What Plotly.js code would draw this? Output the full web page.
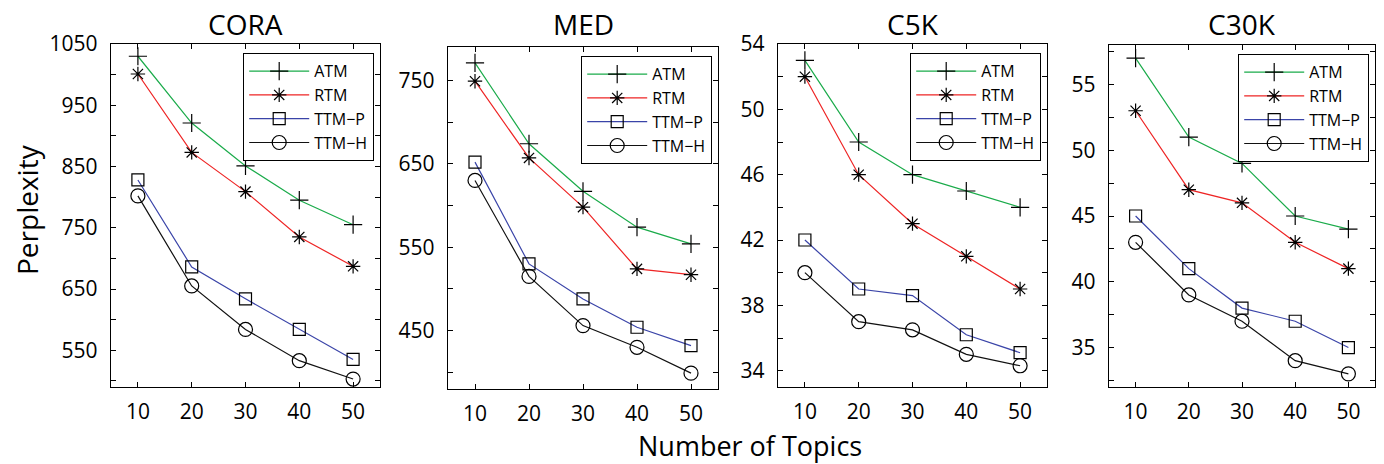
<!DOCTYPE html>
<html>
<head>
<meta charset="utf-8">
<script src="https://cdn.plot.ly/plotly-3.0.1.min.js"></script>
<style>html,body{margin:0;padding:0;background:#fff;}#chart{width:1384px;height:464px;}</style>
</head>
<body>
<div id="chart"></div>
<script>
// ---- data ----
const topics = [10, 20, 30, 40, 50];
const panelNames = ["CORA", "MED", "C5K", "C30K"];
const seriesNames = ["ATM", "RTM", "TTM\u2212P", "TTM\u2212H"];

const coraATM  = [1030, 921, 851, 795, 755];
const coraRTM  = [1001, 873, 809, 735, 687];
const coraTTMP = [828, 686, 634, 584, 535];
const coraTTMH = [802, 655, 584, 533, 503];

const medATM  = [771, 674, 617, 574, 554];
const medRTM  = [749, 657, 598, 524, 517];
const medTTMP = [652, 530, 488, 454, 432];
const medTTMH = [630, 515, 456, 430, 399];

const c5kATM  = [53, 48, 46, 45, 44];
const c5kRTM  = [52, 46, 43, 41, 39];
const c5kTTMP = [42, 39, 38.6, 36.2, 35.1];
const c5kTTMH = [40, 37, 36.5, 35, 34.3];

const c30kATM  = [57, 51, 49, 45, 44];
const c30kRTM  = [53, 47, 46, 43, 41];
const c30kTTMP = [45, 41, 38, 37, 35];
const c30kTTMH = [43, 39, 37, 34, 33];

const coraTicks = [500, 550, 600, 650, 700, 750, 800, 850, 900, 950, 1000, 1050];
const coraLabels = ["", "550", "", "650", "", "750", "", "850", "", "950", "", "1050"];
const medTicks = [400, 450, 500, 550, 600, 650, 700, 750];
const medLabels = ["", "450", "", "550", "", "650", "", "750"];
const c5kTicks = [34, 36, 38, 40, 42, 44, 46, 48, 50, 52, 54];
const c5kLabels = ["34", "", "38", "", "42", "", "46", "", "50", "", "54"];
const c30kTicks = [32.5, 35, 37.5, 40, 42.5, 45, 47.5, 50, 52.5, 55, 57.5];
const c30kLabels = ["", "35", "", "40", "", "45", "", "50", "", "55", ""];
const xTickLabels = ["10", "20", "30", "40", "50"];

// ---- styling / layout ----
const W = 1384, H = 464;
const FONT = "Open Sans, DejaVu Sans, sans-serif";
const lineColors = ["#1aab4a", "#ee2424", "#3a44a8", "#111111"];
const symbols = ["cross-thin-open", "asterisk-open", "square-open", "circle-open"];
const sizes = [13, 12, 12, 14];

const panels = [
  {data: [coraATM, coraRTM, coraTTMP, coraTTMH], range: [490, 1050], tv: coraTicks, tt: coraLabels, px: [111, 380], py: [44, 387]},
  {data: [medATM, medRTM, medTTMP, medTTMH], range: [380, 790], tv: medTicks, tt: medLabels, px: [448, 718], py: [47, 389]},
  {data: [c5kATM, c5kRTM, c5kTTMP, c5kTTMH], range: [33, 54], tv: c5kTicks, tt: c5kLabels, px: [778, 1047], py: [44, 387]},
  {data: [c30kATM, c30kRTM, c30kTTMP, c30kTTMH], range: [32, 58], tv: c30kTicks, tt: c30kLabels, px: [1109, 1375], py: [45, 387]}
];

const traces = [];
const layout = {
  width: W, height: H,
  margin: {l: 0, r: 0, t: 0, b: 0},
  paper_bgcolor: "#fff", plot_bgcolor: "#fff",
  font: {family: FONT, color: "#000"},
  annotations: []
};

panels.forEach((p, i) => {
  const n = i + 1;
  const xa = "xaxis" + (n === 1 ? "" : n), ya = "yaxis" + (n === 1 ? "" : n);
  const xr = "x" + (n === 1 ? "" : n), yr = "y" + (n === 1 ? "" : n);
  const lg = "legend" + (n === 1 ? "" : n);
  p.data.forEach((vals, s) => {
    traces.push({
      x: topics, y: vals, type: "scatter", mode: "lines+markers",
      name: seriesNames[s], xaxis: xr, yaxis: yr, legend: lg,
      line: {color: lineColors[s], width: 1.2},
      marker: {symbol: symbols[s], size: sizes[s], color: "#000", line: {color: "#000", width: 1.2}},
      cliponaxis: false
    });
  });
  const axCommon = {
    showline: true, linecolor: "#000", linewidth: 1.2, mirror: "ticks",
    ticks: "inside", ticklen: 5, tickcolor: "#000", tickwidth: 1,
    showgrid: false, zeroline: false, fixedrange: true,
    tickfont: {family: FONT, size: 21, color: "#000"}
  };
  layout[xa] = Object.assign({}, axCommon, {
    domain: [p.px[0] / W, p.px[1] / W], anchor: yr, range: [5, 55],
    tickmode: "array", tickvals: topics, ticktext: xTickLabels, ticklabelstandoff: 6
  });
  layout[ya] = Object.assign({}, axCommon, {
    domain: [1 - p.py[1] / H, 1 - p.py[0] / H], anchor: xr, range: p.range,
    tickmode: "array", tickvals: p.tv, ticktext: p.tt, ticklabelstandoff: 8
  });
  layout[lg] = {
    x: (p.px[1] - 6) / W, xanchor: "right", xref: "paper",
    y: 1 - (p.py[0] + 9) / H, yanchor: "top", yref: "paper",
    bgcolor: "#fff", bordercolor: "#000", borderwidth: 1.2,
    font: {family: FONT, size: 16, color: "#000"},
    itemwidth: 60, tracegroupgap: 0
  };
  layout.annotations.push({
    text: panelNames[i], xref: "paper", yref: "paper",
    x: (p.px[0] + p.px[1]) / 2 / W, y: 1 - 24 / H, xanchor: "center", yanchor: "middle",
    showarrow: false, font: {family: FONT, size: 28, color: "#000"}
  });
});

layout.annotations.push({
  text: "Perplexity", xref: "paper", yref: "paper", x: 27 / W, y: 1 - 210 / H,
  xanchor: "center", yanchor: "middle", textangle: -90, showarrow: false,
  font: {family: FONT, size: 28, color: "#000"}
});
layout.annotations.push({
  text: "Number of Topics", xref: "paper", yref: "paper", x: 750 / W, y: 1 - 445 / H,
  xanchor: "center", yanchor: "middle", showarrow: false,
  font: {family: FONT, size: 27, color: "#000"}
});

Plotly.newPlot("chart", traces, layout, {staticPlot: true, displayModeBar: false});
</script>
</body>
</html>
